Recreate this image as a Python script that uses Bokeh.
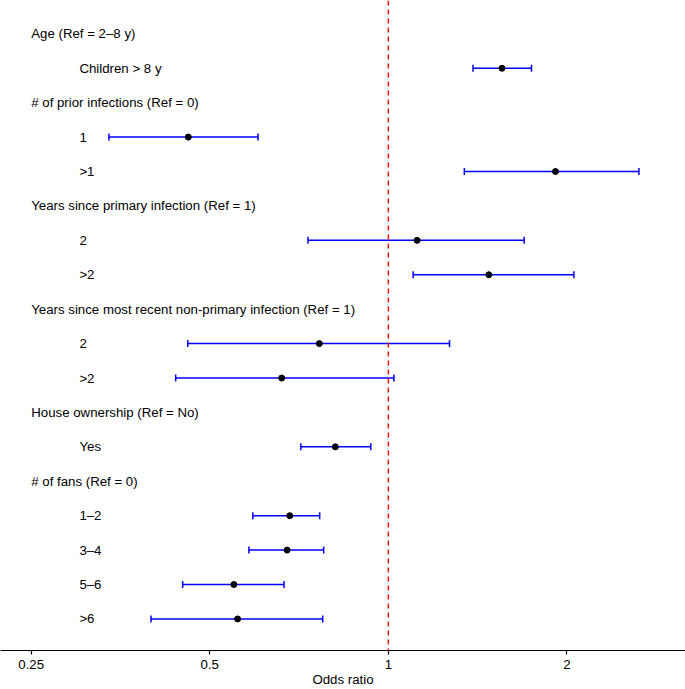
import numpy as np
from bokeh.plotting import figure
from bokeh.models import ColumnDataSource, FixedTicker, Span, Range1d
from bokeh.core.properties import value
from bokeh.embed import file_html
from bokeh.resources import INLINE

# ---- data ----
labels = ["Age (Ref = 2–8 y)", "Children > 8 y",
          "# of prior infections (Ref = 0)", "1", ">1",
          "Years since primary infection (Ref = 1)", "2", ">2",
          "Years since most recent non-primary infection (Ref = 1)", "2", ">2",
          "House ownership (Ref = No)", "Yes",
          "# of fans (Ref = 0)", "1–2", "3–4", "5–6", ">6"]
is_header = [True, False, True, False, False, True, False, False, True,
             False, False, True, False, True, False, False, False, False]
estimate = [None, 1.554, None, 0.460, 1.913, None, 1.118, 1.477, None,
            0.765, 0.661, None, 0.814, None, 0.682, 0.675, 0.549, 0.557]
lower = [None, 1.389, None, 0.338, 1.343, None, 0.732, 1.101, None,
         0.459, 0.438, None, 0.712, None, 0.591, 0.582, 0.450, 0.398]
upper = [None, 1.743, None, 0.603, 2.645, None, 1.694, 2.055, None,
         1.268, 1.022, None, 0.934, None, 0.766, 0.778, 0.667, 0.775]
tick_values = [0.25, 0.5, 1, 2]
tick_labels = ["0.25", "0.5", "1", "2"]
axis_title = "Odds ratio"

# ---- layout constants ----
FONT = "Liberation Sans"
FS = "13.25px"
header_x = 0.25
item_x = 0.3014

n = len(labels)
row_y = [n - 1 - i for i in range(n)]

text_src = ColumnDataSource(dict(
    x=[header_x if h else item_x for h in is_header],
    y=row_y,
    text=labels,
))
idx = [i for i in range(n) if estimate[i] is not None]
est_src = ColumnDataSource(dict(
    y=[row_y[i] for i in idx],
    est=[estimate[i] for i in idx],
    lo=[lower[i] for i in idx],
    hi=[upper[i] for i in idx],
))

p = figure(width=685, height=689, output_backend="svg", toolbar_location=None,
           x_axis_type="log",
           x_range=Range1d(0.2219, 3.169), y_range=Range1d(-0.917, 17.969),
           min_border_left=0, min_border_right=0, min_border_top=0,
           min_border_bottom=0, outline_line_color=None)
p.yaxis.visible = False
p.xgrid.visible = False
p.ygrid.visible = False

p.add_layout(Span(location=1, dimension="height", line_color="#FF0000",
                  line_dash="5 4", line_width=1.4))

p.text(x="x", y="y", text="text", source=text_src,
       text_font=value(FONT), text_font_size=FS,
       text_baseline="middle", text_align="left", text_color="black")

p.segment(x0="lo", y0="y", x1="hi", y1="y", source=est_src,
          line_color="#0000FF", line_width=1.5)
for col in ("lo", "hi"):
    p.scatter(x=col, y="y", source=est_src, marker="dash", angle=np.pi / 2,
              size=7, line_color="#0000FF", line_width=1.5)
p.scatter(x="est", y="y", source=est_src, marker="circle", size=6,
          fill_color="black", line_color="black")

ax = p.xaxis[0]
ax.ticker = FixedTicker(ticks=tick_values)
ax.major_label_overrides = {v: t for v, t in zip(tick_values, tick_labels)}
ax.minor_tick_line_color = None
ax.major_tick_in = 0
ax.major_tick_out = 4
ax.major_label_standoff = 5
ax.axis_line_color = "black"
ax.axis_line_width = 1.2
ax.major_tick_line_width = 1.2
ax.major_label_text_font = FONT
ax.major_label_text_font_size = FS
ax.major_label_text_color = "black"
ax.axis_label = axis_title
ax.axis_label_text_font = FONT
ax.axis_label_text_font_size = FS
ax.axis_label_text_font_style = "normal"
ax.axis_label_text_color = "black"
ax.axis_label_standoff = 0

open("out.html", "w").write(file_html(p, INLINE))
